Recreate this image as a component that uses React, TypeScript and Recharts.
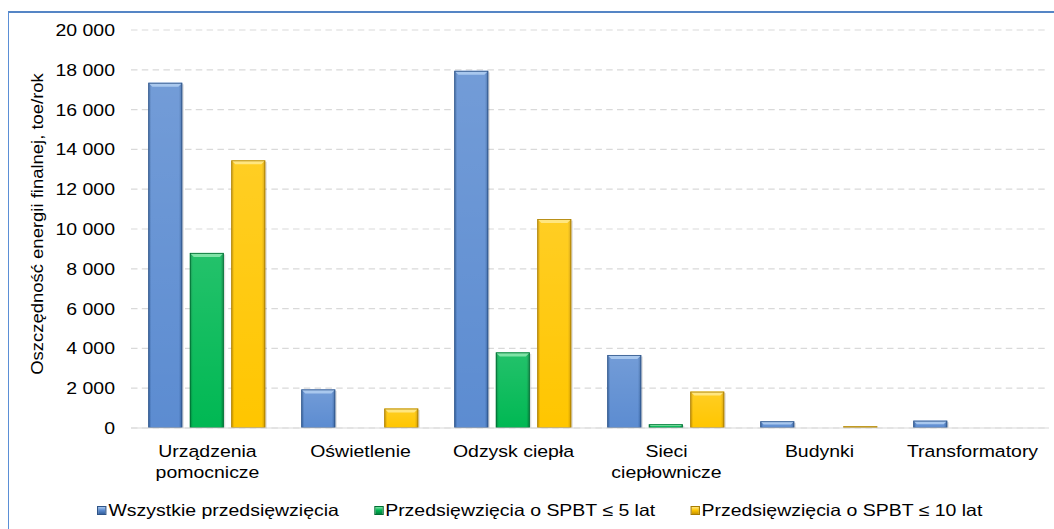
import React from 'react';
import { BarChart, Bar, XAxis, YAxis, CartesianGrid, Legend } from 'recharts';

const categories = ['Urządzenia\npomocnicze', 'Oświetlenie', 'Odzysk ciepła', 'Sieci\nciepłownicze', 'Budynki', 'Transformatory'];
const allProjects = [17350, 1940, 17950, 3670, 340, 370];
const spbt5 = [8800, 0, 3800, 190, 0, 0];
const spbt10 = [13450, 980, 10500, 1830, 90, 0];
const seriesKeys = ['all', 's5', 's10'];
const seriesNames = ['Wszystkie przedsięwzięcia', 'Przedsięwzięcia o SPBT ≤ 5 lat', 'Przedsięwzięcia o SPBT ≤ 10 lat'];
const yTicks = [0, 2000, 4000, 6000, 8000, 10000, 12000, 14000, 16000, 18000, 20000];
const yTitle = 'Oszczędność energii finalnej, toe/rok';

const data = categories.map((c, i) => ({ category: c, all: allProjects[i], s5: spbt5[i], s10: spbt10[i] }));

const FONT = '"Liberation Sans", Arial, sans-serif';
const FS = 16.5;
const SX = 1.18;

type Pal = { id: string; edge: string; mid: string; light: string; stroke: string; color: string };
const PAL: Record<string, Pal> = {
  all: { id: 'gAll', edge: '#34609d', mid: '#5c8cd1', light: '#a9c8ee', stroke: '#2e5488', color: '#4f81bd' },
  s5: { id: 'gS5', edge: '#00803b', mid: '#00b853', light: '#7fe3a6', stroke: '#006f33', color: '#00b050' },
  s10: { id: 'gS10', edge: '#c99500', mid: '#ffc600', light: '#ffe680', stroke: '#a87c00', color: '#ffc000' },
};

const fmt = (v: number) => String(v).replace(/\B(?=(\d{3})+(?!\d))/g, ' ');

const makeShape = (key: string) => (props: any) => {
  const { x, y, width, height } = props;
  if (!height || height <= 0.3) return <g />;
  const p = PAL[key];
  const b = Math.min(4, height / 2);
  return (
    <g>
      <rect x={x + 1.5} y={y + 1.5} width={width} height={Math.max(0, height - 1.5)} fill="rgba(0,0,0,0.13)" />
      <rect x={x} y={y} width={width} height={height} fill={`url(#${p.id}H)`} />
      <rect x={x} y={y} width={width} height={height} fill="url(#shineV)" />
      <polygon points={`${x},${y} ${x + width},${y} ${x + width - b},${y + b} ${x + b},${y + b}`} fill={p.light} />
      <rect x={x + 0.5} y={y + 0.5} width={Math.max(0, width - 1)} height={Math.max(0, height - 1)} fill="none" stroke={p.stroke} strokeWidth={0.8} />
    </g>
  );
};

const YTick = (props: any) => {
  const { x, y, payload } = props;
  return (
    <text transform={`translate(${x},${y}) scale(${SX},1)`} textAnchor="end" dy="0.36em" fontSize={FS} fontFamily={FONT} fill="#000">
      {fmt(payload.value)}
    </text>
  );
};

const XTick = (props: any) => {
  const { x, y, payload } = props;
  const lines = String(payload.value).split('\n');
  return (
    <g transform={`translate(${x},${y}) scale(${SX},1)`}>
      {lines.map((l, i) => (
        <text key={i} x={0} y={29 + i * 21.5} textAnchor="middle" fontSize={FS} fontFamily={FONT} fill="#000">
          {l}
        </text>
      ))}
    </g>
  );
};

const YLabel = (props: any) => {
  const vb = props.viewBox || { x: 0, y: 30, width: 131, height: 398 };
  const cx = vb.x + 43;
  const cy = vb.y + vb.height / 2 - 5;
  return (
    <text transform={`translate(${cx},${cy}) rotate(-90) scale(1.12,1)`} textAnchor="middle" fontSize={16.5} fontFamily={FONT} fill="#000">
      {yTitle}
    </text>
  );
};

const LegendContent = (props: any) => {
  const payload = [...(props.payload || [])].sort(
    (a: any, b: any) => seriesKeys.indexOf(a.dataKey) - seriesKeys.indexOf(b.dataKey)
  );
  return (
    <div
      style={{
        transform: `scaleX(${SX})`,
        transformOrigin: '0 0',
        display: 'flex',
        alignItems: 'center',
        height: 20,
        lineHeight: '20px',
        fontSize: FS,
        fontFamily: FONT,
        whiteSpace: 'nowrap',
        color: '#000',
      }}
    >
      {payload.map((e: any, i: number) => {
        const p = PAL[e.dataKey as string];
        return (
          <div key={i} style={{ display: 'flex', alignItems: 'center', marginRight: 29.5 }}>
            <span
              style={{
                display: 'inline-block',
                width: 8,
                height: 9,
                boxSizing: 'border-box',
                border: `1px solid ${p.stroke}`,
                background: `linear-gradient(to bottom, ${p.light} 0%, ${p.mid} 45%, ${p.edge} 100%)`,
                marginRight: 1.7,
              }}
            />
            <span>{e.value}</span>
          </div>
        );
      })}
    </div>
  );
};

export default function App() {
  return (
    <div style={{ position: 'fixed', left: 0, top: 0, width: 1054, height: 529, overflow: 'hidden', background: '#fff' }}>
      <svg width={0} height={0} style={{ position: 'absolute' }}>
        <defs>
          {Object.values(PAL).map((p) => (
            <linearGradient key={p.id} id={`${p.id}H`} x1="0" y1="0" x2="1" y2="0">
              <stop offset="0%" stopColor={p.edge} />
              <stop offset="9%" stopColor={p.mid} />
              <stop offset="55%" stopColor={p.mid} />
              <stop offset="90%" stopColor={p.mid} />
              <stop offset="100%" stopColor={p.edge} />
            </linearGradient>
          ))}
          <linearGradient id="shineV" x1="0" y1="0" x2="0" y2="1">
            <stop offset="0%" stopColor="#ffffff" stopOpacity={0.14} />
            <stop offset="100%" stopColor="#ffffff" stopOpacity={0} />
          </linearGradient>
        </defs>
      </svg>
      <div
        style={{
          position: 'absolute',
          left: 8,
          top: 11,
          width: 1100,
          height: 600,
          borderTop: '2px solid #5585c5',
          borderLeft: '1px solid #5b8fd6',
        }}
      />
      <div style={{ position: 'absolute', left: 0, top: 0 }}>
        <BarChart
          width={1054}
          height={529}
          data={data}
          margin={{ top: 30, right: 5, bottom: 41, left: 0 }}
          barCategoryGap="11.3%"
          barGap={7.5}
        >
          <CartesianGrid vertical={false} stroke="#d9d9d9" strokeDasharray="6.5 4.3" strokeWidth={1.2} />
          <XAxis
            dataKey="category"
            height={60}
            tickLine={false}
            tickSize={0}
            tickMargin={0}
            axisLine={{ stroke: '#d9d9d9', strokeWidth: 1.2 }}
            tick={<XTick />}
            interval={0}
          />
          <YAxis
            width={131}
            domain={[0, 20000]}
            ticks={yTicks}
            interval={0}
            axisLine={false}
            tickLine={false}
            tickSize={0}
            tickMargin={16}
            tick={<YTick />}
            label={<YLabel />}
          />
          <Legend
            content={<LegendContent />}
            verticalAlign="bottom"
            wrapperStyle={{ left: 97, top: 500, bottom: 'auto', width: 950, height: 0 }}
          />
          <Bar dataKey="all" name={seriesNames[0]} fill={PAL.all.color} shape={makeShape('all')} isAnimationActive={false} />
          <Bar dataKey="s5" name={seriesNames[1]} fill={PAL.s5.color} shape={makeShape('s5')} isAnimationActive={false} />
          <Bar dataKey="s10" name={seriesNames[2]} fill={PAL.s10.color} shape={makeShape('s10')} isAnimationActive={false} />
        </BarChart>
      </div>
    </div>
  );
}
